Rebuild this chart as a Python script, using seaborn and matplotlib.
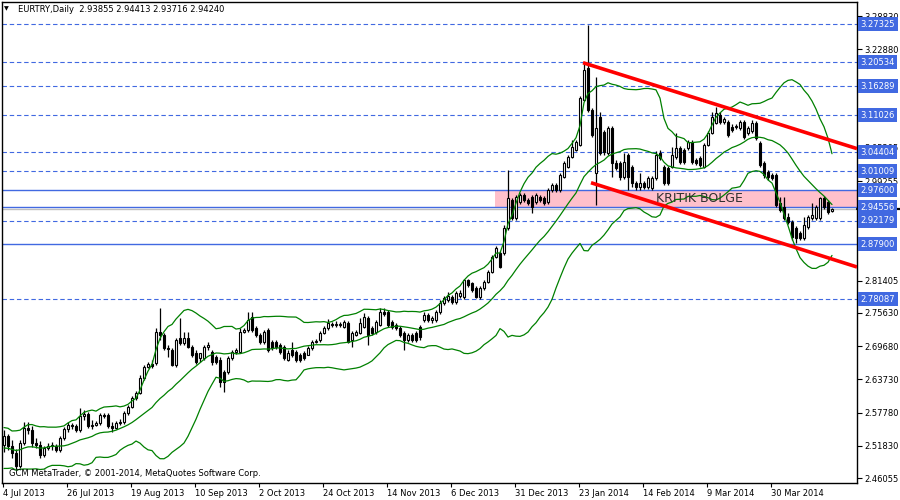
import numpy as np
import pandas as pd
import matplotlib
matplotlib.use("Agg")
import matplotlib.pyplot as plt
import matplotlib.transforms as mtransforms
from matplotlib.patches import Rectangle
import seaborn as sns

# ---------------- data (EURTRY daily) ----------------
opens = [
    2.520, 2.536, 2.518, 2.505, 2.482, 2.523, 2.550, 2.547, 2.523, 2.520,
    2.502, 2.514, 2.518, 2.518, 2.511, 2.532, 2.548, 2.555, 2.554, 2.547,
    2.572, 2.575, 2.554, 2.555, 2.559, 2.573, 2.573, 2.554, 2.550, 2.559,
    2.561, 2.577, 2.588, 2.604, 2.613, 2.640, 2.659, 2.665, 2.666, 2.722,
    2.717, 2.693, 2.690, 2.663, 2.711, 2.702, 2.711, 2.695, 2.684, 2.675,
    2.675, 2.695, 2.686, 2.677, 2.672, 2.650, 2.650, 2.675, 2.686, 2.686,
    2.722, 2.726, 2.749, 2.729, 2.717, 2.704, 2.726, 2.704, 2.704, 2.699,
    2.695, 2.672, 2.690, 2.686, 2.681, 2.684, 2.681, 2.693, 2.704, 2.708,
    2.720, 2.729, 2.736, 2.735, 2.735, 2.731, 2.738, 2.708, 2.717, 2.720,
    2.731, 2.747, 2.729, 2.722, 2.735, 2.758, 2.758, 2.740, 2.735, 2.729,
    2.720, 2.708, 2.717, 2.720, 2.731, 2.744, 2.753, 2.744, 2.744, 2.758,
    2.774, 2.779, 2.785, 2.776, 2.787, 2.785, 2.815, 2.810, 2.801, 2.785,
    2.801, 2.812, 2.830, 2.856, 2.864, 2.864, 2.908, 2.959, 2.926, 2.955,
    2.968, 2.959, 2.964, 2.955, 2.964, 2.962, 2.955, 2.977, 2.985, 2.977,
    3.000, 3.018, 3.036, 3.048, 3.057, 3.138, 3.195, 3.120, 3.007, 3.107,
    3.080, 3.043, 3.088, 3.025, 3.025, 3.000, 3.039, 3.018, 2.989, 2.982,
    2.989, 2.982, 2.980, 2.998, 3.043, 3.018, 3.016, 3.018, 3.036, 3.052,
    3.048, 3.052, 3.063, 3.030, 3.034, 3.018, 3.057, 3.079, 3.097, 3.111,
    3.098, 3.098, 3.089, 3.089, 3.088, 3.098, 3.079, 3.082, 3.097, 3.061,
    3.025, 3.009, 3.003, 3.003, 2.953, 2.946, 2.928, 2.919, 2.908, 2.900,
    2.891, 2.910, 2.926, 2.926, 2.926, 2.962, 2.955, 2.93855,
]
highs = [
    2.547, 2.539, 2.529, 2.512, 2.529, 2.561, 2.561, 2.554, 2.532, 2.527,
    2.518, 2.523, 2.525, 2.521, 2.536, 2.552, 2.561, 2.559, 2.557, 2.586,
    2.582, 2.579, 2.564, 2.563, 2.577, 2.577, 2.577, 2.561, 2.563, 2.566,
    2.580, 2.591, 2.607, 2.616, 2.645, 2.663, 2.668, 2.672, 2.729, 2.765,
    2.720, 2.699, 2.693, 2.711, 2.747, 2.722, 2.722, 2.699, 2.690, 2.684,
    2.699, 2.704, 2.690, 2.681, 2.677, 2.654, 2.679, 2.690, 2.693, 2.729,
    2.729, 2.758, 2.758, 2.733, 2.720, 2.726, 2.729, 2.708, 2.708, 2.702,
    2.699, 2.690, 2.704, 2.690, 2.684, 2.688, 2.697, 2.708, 2.710, 2.724,
    2.733, 2.745, 2.740, 2.742, 2.740, 2.744, 2.742, 2.724, 2.726, 2.747,
    2.756, 2.751, 2.733, 2.744, 2.765, 2.765, 2.762, 2.744, 2.738, 2.733,
    2.724, 2.720, 2.720, 2.724, 2.735, 2.758, 2.756, 2.751, 2.762, 2.779,
    2.787, 2.794, 2.788, 2.796, 2.797, 2.817, 2.817, 2.812, 2.805, 2.805,
    2.815, 2.833, 2.860, 2.876, 2.867, 2.914, 3.012, 2.962, 2.968, 2.971,
    2.971, 2.962, 2.968, 2.971, 2.968, 2.966, 2.980, 2.989, 2.989, 3.007,
    3.028, 3.039, 3.066, 3.066, 3.145, 3.204, 3.272, 3.123, 3.179, 3.116,
    3.084, 3.091, 3.091, 3.030, 3.028, 3.043, 3.043, 3.021, 2.993, 3.007,
    2.993, 3.002, 3.002, 3.046, 3.048, 3.021, 3.020, 3.054, 3.079, 3.055,
    3.052, 3.066, 3.066, 3.034, 3.037, 3.061, 3.082, 3.116, 3.125, 3.116,
    3.107, 3.102, 3.095, 3.095, 3.102, 3.102, 3.091, 3.102, 3.100, 3.064,
    3.028, 3.012, 3.007, 3.007, 2.964, 2.964, 2.935, 2.923, 2.912, 2.903,
    2.928, 2.932, 2.953, 2.950, 2.964, 2.966, 2.959, 2.94413,
]
lows = [
    2.507, 2.511, 2.496, 2.475, 2.478, 2.520, 2.539, 2.516, 2.514, 2.496,
    2.498, 2.511, 2.511, 2.507, 2.507, 2.529, 2.543, 2.548, 2.543, 2.543,
    2.564, 2.550, 2.548, 2.554, 2.555, 2.568, 2.550, 2.543, 2.548, 2.555,
    2.557, 2.573, 2.586, 2.600, 2.611, 2.636, 2.658, 2.658, 2.663, 2.708,
    2.690, 2.677, 2.661, 2.659, 2.699, 2.699, 2.693, 2.677, 2.665, 2.668,
    2.672, 2.690, 2.663, 2.665, 2.624, 2.615, 2.647, 2.672, 2.683, 2.684,
    2.720, 2.722, 2.722, 2.713, 2.701, 2.701, 2.686, 2.690, 2.692, 2.683,
    2.672, 2.670, 2.677, 2.668, 2.668, 2.672, 2.681, 2.690, 2.702, 2.704,
    2.719, 2.726, 2.731, 2.731, 2.731, 2.729, 2.702, 2.695, 2.715, 2.719,
    2.729, 2.699, 2.717, 2.719, 2.733, 2.751, 2.731, 2.727, 2.726, 2.713,
    2.690, 2.704, 2.704, 2.704, 2.708, 2.740, 2.740, 2.738, 2.740, 2.754,
    2.770, 2.776, 2.772, 2.772, 2.783, 2.781, 2.803, 2.794, 2.783, 2.781,
    2.797, 2.810, 2.828, 2.855, 2.837, 2.860, 2.905, 2.923, 2.923, 2.951,
    2.955, 2.950, 2.935, 2.951, 2.955, 2.950, 2.951, 2.973, 2.973, 2.973,
    2.998, 3.016, 3.034, 3.046, 3.055, 3.136, 3.116, 3.072, 2.950, 3.039,
    3.039, 3.039, 3.000, 3.012, 2.994, 2.996, 2.977, 2.982, 2.977, 2.977,
    2.978, 2.978, 2.977, 2.994, 3.030, 2.985, 2.985, 3.016, 3.032, 3.023,
    3.023, 3.048, 3.023, 3.021, 3.018, 3.016, 3.055, 3.077, 3.095, 3.095,
    3.095, 3.072, 3.080, 3.086, 3.084, 3.068, 3.075, 3.079, 3.066, 3.018,
    2.998, 2.994, 2.994, 2.946, 2.937, 2.923, 2.916, 2.887, 2.882, 2.887,
    2.887, 2.907, 2.923, 2.923, 2.923, 2.942, 2.934, 2.93716,
]
closes = [
    2.536, 2.518, 2.505, 2.482, 2.523, 2.550, 2.547, 2.523, 2.520, 2.502,
    2.514, 2.518, 2.520, 2.511, 2.532, 2.548, 2.555, 2.554, 2.547, 2.572,
    2.575, 2.554, 2.555, 2.559, 2.573, 2.572, 2.554, 2.550, 2.559, 2.561,
    2.577, 2.588, 2.604, 2.613, 2.640, 2.659, 2.665, 2.661, 2.722, 2.717,
    2.693, 2.692, 2.663, 2.708, 2.702, 2.711, 2.695, 2.681, 2.668, 2.684,
    2.695, 2.699, 2.668, 2.668, 2.633, 2.633, 2.675, 2.686, 2.690, 2.722,
    2.726, 2.744, 2.726, 2.717, 2.704, 2.722, 2.690, 2.693, 2.695, 2.686,
    2.675, 2.684, 2.681, 2.672, 2.672, 2.675, 2.693, 2.704, 2.706, 2.720,
    2.729, 2.738, 2.735, 2.736, 2.737, 2.740, 2.704, 2.720, 2.722, 2.738,
    2.749, 2.717, 2.720, 2.740, 2.758, 2.754, 2.735, 2.731, 2.729, 2.717,
    2.708, 2.717, 2.708, 2.708, 2.713, 2.753, 2.744, 2.747, 2.758, 2.774,
    2.783, 2.787, 2.776, 2.792, 2.792, 2.815, 2.806, 2.797, 2.785, 2.801,
    2.812, 2.830, 2.856, 2.873, 2.839, 2.908, 2.962, 2.926, 2.964, 2.968,
    2.959, 2.953, 2.946, 2.968, 2.959, 2.953, 2.977, 2.985, 2.977, 3.003,
    3.025, 3.036, 3.054, 3.063, 3.141, 3.192, 3.120, 3.075, 3.088, 3.043,
    3.045, 3.088, 3.025, 3.016, 3.000, 3.027, 3.000, 2.989, 2.982, 2.989,
    2.982, 2.998, 2.998, 3.039, 3.034, 2.989, 2.989, 3.039, 3.052, 3.027,
    3.027, 3.063, 3.027, 3.025, 3.021, 3.057, 3.079, 3.107, 3.115, 3.098,
    3.104, 3.075, 3.084, 3.091, 3.098, 3.072, 3.088, 3.097, 3.070, 3.021,
    3.003, 3.000, 2.998, 2.950, 2.941, 2.926, 2.919, 2.892, 2.891, 2.891,
    2.914, 2.928, 2.932, 2.946, 2.962, 2.946, 2.937, 2.94240,
]
# closes before the visible window (estimated from the band positions at the left edge)
pre_window_close = [2.530, 2.545, 2.520, 2.495, 2.490, 2.505, 2.520, 2.540, 2.530, 2.505,
                    2.485, 2.495, 2.510, 2.525, 2.540, 2.520, 2.500, 2.490, 2.505]

x_tick_bars = [0, 16, 32, 48, 64, 80, 96, 112, 128, 144, 160, 176, 192]
x_tick_labels = ["4 Jul 2013", "26 Jul 2013", "19 Aug 2013", "10 Sep 2013", "2 Oct 2013",
                 "24 Oct 2013", "14 Nov 2013", "6 Dec 2013", "31 Dec 2013", "23 Jan 2014",
                 "14 Feb 2014", "9 Mar 2014", "30 Mar 2014"]
y_ticks = [2.46055, 2.51830, 2.57780, 2.63730, 2.69680, 2.75630, 2.81405, 2.87355,
           2.93305, 2.99255, 3.05205, 3.11155, 3.16830, 3.22880, 3.28830]
# tick labels fully covered by the price boxes in the reference
y_ticks_hidden = [2.87355, 2.93305, 3.11155]

dashed_levels = [3.27325, 3.20534, 3.16289, 3.11026, 3.04404, 3.01009, 2.92179, 2.78087]
solid_levels = [2.97600, 2.94556, 2.87900]
bid_price = 2.94240
zone_low, zone_high = 2.94556, 2.97600
zone_start_bar = 122.75
zone_label = "KRITIK BOLGE"
upper_trend_bars = [144.75, 213.25]
upper_trend_prices = [3.2046, 3.0507]
lower_trend_bars = [146.75, 213.25]
lower_trend_prices = [2.9896, 2.8386]
title_text = "EURTRY,Daily  2.93855 2.94413 2.93716 2.94240"
copyright_text = "GCM MetaTrader, \u00a9 2001-2014, MetaQuotes Software Corp."

assert len(opens) == len(highs) == len(lows) == len(closes) == 208

# ---------------- style ----------------
sns.set_style("white")
plt.rcParams["font.family"] = ["DejaVu Sans"]
FS = 6
BLUE = "#4169E1"

fig = plt.figure(figsize=(9, 5), dpi=100)
ax = fig.add_axes([2 / 900, 17 / 500, 855 / 900, 481 / 500])
n = len(closes)
bars = np.arange(n)

# Bollinger bands (20, 2)
all_close = pd.Series(pre_window_close + closes)
mid = all_close.rolling(20).mean().iloc[-n:].to_numpy()
sd = all_close.rolling(20).std(ddof=0).iloc[-n:].to_numpy()
bands = pd.DataFrame({"bar": bars, "upper": mid + 2 * sd, "middle": mid, "lower": mid - 2 * sd})

# zone
ax.add_patch(Rectangle((zone_start_bar, zone_low), 213.25 - zone_start_bar, zone_high - zone_low,
                       facecolor="#FFC0CB", edgecolor="none", zorder=0))

# horizontal levels
for lv in dashed_levels:
    ax.axhline(lv, color=BLUE, lw=0.8, ls=(0, (4, 2.5)), zorder=1)
for lv in solid_levels:
    ax.axhline(lv, color=BLUE, lw=1.0, zorder=1)
ax.axhline(bid_price, color="#C0C0C0", lw=1.0, zorder=1)

# candles
o = np.array(opens); h = np.array(highs); l = np.array(lows); c = np.array(closes)
ax.vlines(bars, l, h, color="black", lw=0.9, zorder=3)
body_lo = np.minimum(o, c)
body_h = np.maximum(np.abs(c - o), 0.0012)
colors = np.where(c >= o, "white", "black")
ax.bar(bars, body_h, bottom=body_lo, width=0.62, color=colors, edgecolor="black",
       linewidth=0.8, zorder=4)

# bands
for col in ["upper", "middle", "lower"]:
    sns.lineplot(data=bands, x="bar", y=col, ax=ax, color="#008000", lw=0.9, zorder=5)

# trend lines
ax.plot(upper_trend_bars, upper_trend_prices, color="#FF0000", lw=2.6, zorder=6,
        solid_capstyle="butt")
ax.plot(lower_trend_bars, lower_trend_prices, color="#FF0000", lw=2.6, zorder=6,
        solid_capstyle="butt")

ax.text(163, 2.9608, zone_label, fontsize=9, color="#303030", va="center", ha="left", zorder=7)

# axes
ax.set_xlim(-0.5, 213.25)
ax.set_ylim(2.4516, 3.3134)
ax.set_xlabel(""); ax.set_ylabel("")
for s in ax.spines.values():
    s.set_color("black"); s.set_linewidth(1.0)
ax.yaxis.tick_right()
ax.set_yticks(y_ticks)
ax.set_yticklabels(["" if v in y_ticks_hidden else f"{v:.5f}" for v in y_ticks], fontsize=FS)
ax.tick_params(axis="y", right=True, left=False, length=3.5, width=0.8, pad=1.5, colors="black")
ax.set_xticks([b - 0.3 for b in x_tick_bars])
ax.set_xticklabels(x_tick_labels, fontsize=FS, ha="left")
ax.tick_params(axis="x", bottom=True, length=3, width=0.8, pad=1.5, colors="black")

# price labels on right
trans = mtransforms.blended_transform_factory(ax.transAxes, ax.transData)
for lv in dashed_levels + solid_levels:
    ax.text(1.0 + 3.5 / 855, lv, f"{lv:.5f}", transform=trans, fontsize=FS, color="white",
            va="center", ha="left", zorder=10, clip_on=False,
            bbox=dict(boxstyle="square,pad=0.3", fc=BLUE, ec="none"))
ax.plot([1.0, 1.06], [bid_price, bid_price], transform=trans, color="black", lw=1.6,
        clip_on=False, zorder=9)

# title and copyright
fig.text(4 / 900, 1 - 9 / 500, "\u25bc", fontsize=4.5, va="center", ha="left", color="black")
fig.text(18 / 900, 1 - 9 / 500, title_text, fontsize=FS, va="center", ha="left", color="black")
ax.text(7 / 855, 0.01, copyright_text, transform=ax.transAxes, fontsize=FS,
        va="bottom", ha="left", color="black", zorder=8)

fig.savefig("out.png", dpi=100, facecolor="white")
